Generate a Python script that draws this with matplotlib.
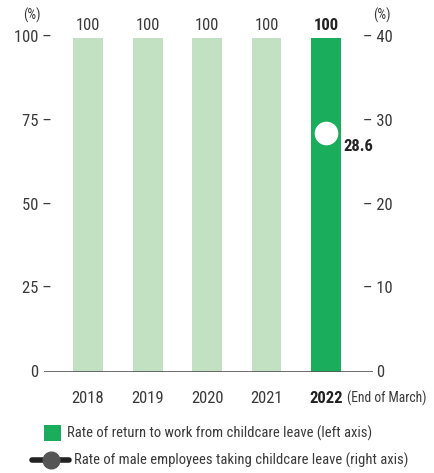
import matplotlib
matplotlib.use("Agg")
import matplotlib.pyplot as plt
from matplotlib.lines import Line2D
from matplotlib.patches import Rectangle
import matplotlib.transforms as mtransforms

plt.rcParams['font.family'] = ['Roboto Condensed', 'DejaVu Sans']
plt.rcParams['font.stretch'] = 'condensed'

# Data
years = ['2018', '2019', '2020', '2021', '2022']
return_rate = [100, 100, 100, 100, 100]          # left axis (%)
male_leave_year = ['2022']
male_leave_rate = [28.6]                          # right axis (%)
left_ticks = [0, 25, 50, 75, 100]
right_ticks = [0, 10, 20, 30, 40]

light_green = '#c2e1c2'
dark_green = '#1aae5c'
text_col = '#3a3a3a'

fig = plt.figure(figsize=(4.34, 4.73), dpi=100)
ax = fig.add_axes([44 / 434, (473 - 372) / 473, 329 / 434, 334 / 473])
ax2 = ax.twinx()

x = list(range(len(years)))
colors = [light_green] * (len(years) - 1) + [dark_green]
ax.bar(x, return_rate, width=0.504, color=colors, zorder=2)
ax.set_xlim(-0.74, 4.79)
ax.set_ylim(0, 100)
ax2.set_ylim(0, 40)

for a in (ax, ax2):
    for s in a.spines.values():
        s.set_visible(False)
    a.set_xticks([])
    a.set_yticks([])
ax.axhline(0, color='#555555', lw=1.2, zorder=3)

# value labels above bars
for i, v in enumerate(return_rate):
    last = i == len(years) - 1
    ax.text(i, v + 3.6, f'{v}', ha='center', va='center', fontsize=12,
            color='#222222' if last else text_col,
            fontweight='bold' if last else 'normal')

# year labels
for i, y in enumerate(years):
    last = i == len(years) - 1
    ax.text(i, -7.9, y, ha='center', va='center', fontsize=12,
            color='#222222' if last else text_col,
            fontweight='bold' if last else 'normal')
ax.text(4.36, -7.9, '(End of March)', ha='left', va='center', fontsize=9.8, color=text_col)

# left axis labels
for t in left_ticks:
    lab = '0' if t == 0 else f'{t} –'
    dx = -6 if t == 0 else 8
    tr = mtransforms.offset_copy(ax.get_yaxis_transform(), fig=fig, x=dx, y=0, units='dots')
    ax.text(0, t, lab, transform=tr, ha='right', va='center', fontsize=12, color=text_col)

# right axis labels
for t in right_ticks:
    lab = '0' if t == 0 else f'– {t}'
    dx = 3 if t == 0 else -10
    tr = mtransforms.offset_copy(ax2.get_yaxis_transform(), fig=fig, x=dx, y=0, units='dots')
    ax2.text(1, t, lab, transform=tr, ha='left', va='center', fontsize=12, color=text_col)

fig.text(32 / 434, 1 - 15 / 473, '(%)', ha='center', va='center', fontsize=10, color=text_col)
fig.text(382 / 434, 1 - 15 / 473, '(%)', ha='center', va='center', fontsize=10, color=text_col)

# male employees rate
mx = [years.index(y) for y in male_leave_year]
ax2.plot(mx, male_leave_rate, 'o', ms=16, mfc='white', mec='white', zorder=4)
for xi, v in zip(mx, male_leave_rate):
    ax2.text(xi + 0.3, v - 1.6, f'{v}', ha='left', va='center', fontsize=12,
             fontweight='bold', color='#222222')

# legend (drawn by hand to match the reference layout)
W, H = 434, 473
fig.patches.append(Rectangle((44 / W, 1 - 441 / H), 17 / W, 16 / H,
                             transform=fig.transFigure, facecolor=dark_green, edgecolor='none'))
fig.text(67 / W, 1 - 433 / H, 'Rate of return to work from childcare leave (left axis)',
         ha='left', va='center', fontsize=10.5, color=text_col)
fig.lines.append(Line2D([32 / W, 69 / W], [1 - 460 / H, 1 - 460 / H], transform=fig.transFigure,
                        color='#222222', lw=4, solid_capstyle='round'))
fig.lines.append(Line2D([50.5 / W], [1 - 460 / H], transform=fig.transFigure, marker='o',
                        ms=12, mfc='#555555', mec='#555555', lw=0))
fig.text(74 / W, 1 - 460 / H, 'Rate of male employees taking childcare leave (right axis)',
         ha='left', va='center', fontsize=10.5, color=text_col)

fig.savefig('out.png', dpi=100)
